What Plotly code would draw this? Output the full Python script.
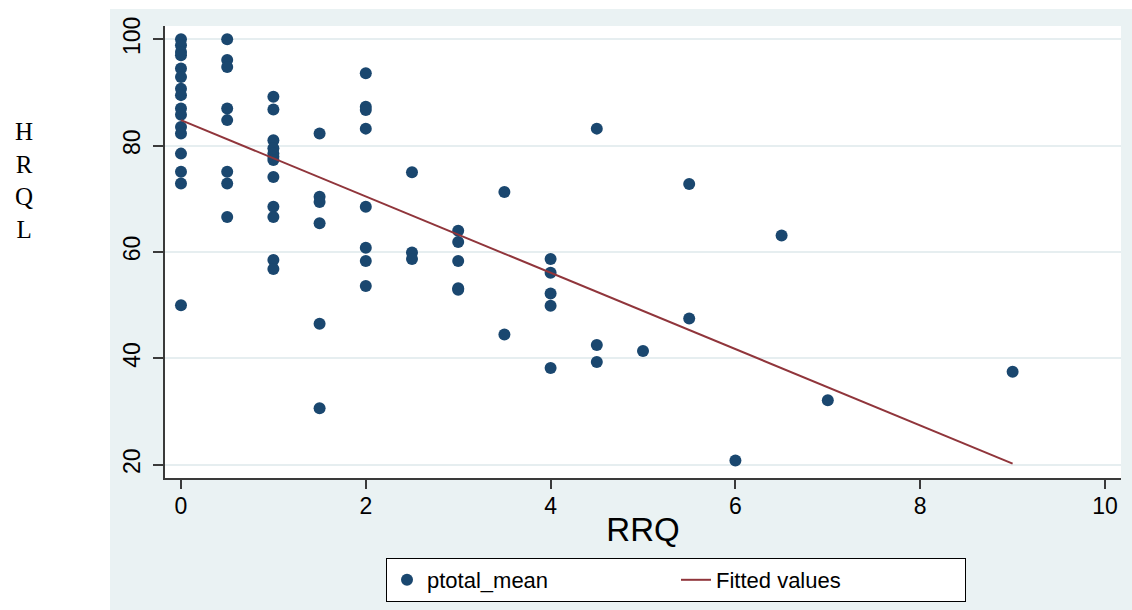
import plotly.graph_objects as go

# RRQ (x) and HRQL (ptotal_mean, y) values
rrq = [0]*16 + [0.5]*8 + [1]*12 + [1.5]*6 + [2]*8 + [2.5]*3 + [3]*5 + [3.5]*2 + [4]*5 + [4.5]*3 + [5] + [5.5]*2 + [6] + [6.5] + [7] + [9]
hrql = [100, 98.9, 97.6, 97.0, 94.5, 92.9, 90.7, 89.5, 87.0, 85.8, 83.5, 82.3, 78.5, 75.1, 72.9, 50.0,
        100, 96.1, 94.8, 87.0, 84.8, 75.1, 72.9, 66.6,
        89.2, 86.8, 81.0, 79.5, 78.5, 77.9, 77.3, 74.1, 68.5, 66.6, 58.5, 56.8,
        82.3, 70.4, 69.4, 65.4, 46.5, 30.6,
        93.6, 87.3, 86.7, 83.2, 68.5, 60.8, 58.3, 53.6,
        75.0, 59.9, 58.7,
        64.0, 61.9, 58.3, 53.2, 52.9,
        71.3, 44.5,
        58.7, 56.1, 52.2, 49.9, 38.2,
        83.2, 42.5, 39.3,
        41.4,
        72.8, 47.5,
        20.8,
        63.1,
        32.1,
        37.5]

# Fitted values line (endpoints)
fit_x = [0, 9]
fit_y = [84.8, 20.2]

x_ticks = [0, 2, 4, 6, 8, 10]
y_ticks = [20, 40, 60, 80, 100]

BG = "#EAF2F3"
NAVY = "#1A476F"
MAROON = "#90353B"
AX = "#3a3a3a"

fig = go.Figure()
fig.add_trace(go.Scatter(x=rrq, y=hrql, mode="markers", name="ptotal_mean",
                         marker=dict(color=NAVY, size=12, line=dict(width=0))))
fig.add_trace(go.Scatter(x=fit_x, y=fit_y, mode="lines", name="Fitted values",
                         line=dict(color=MAROON, width=2)))

W, H = 1132, 610
L, R, T, B = 165, 11, 26, 132
pw, ph = W - L - R, H - T - B

def px(x):
    return (x - L) / pw

def py(y):
    return (H - B - y) / ph

fig.update_layout(
    width=W, height=H,
    margin=dict(l=L, r=R, t=T, b=B, autoexpand=False),
    paper_bgcolor="white",
    plot_bgcolor="white",
    font=dict(family="Liberation Sans, Arial, sans-serif", color="black"),
    shapes=[
        dict(type="rect", xref="paper", yref="paper", x0=px(110), x1=px(1132), y0=py(610), y1=py(9),
             fillcolor=BG, line=dict(width=0), layer="below"),
        dict(type="rect", xref="paper", yref="paper", x0=0, x1=1, y0=0, y1=1,
             fillcolor="white", line=dict(width=0), layer="below"),
    ],
    xaxis=dict(range=[-0.173, 10.173], tickvals=x_ticks, ticktext=[str(v) for v in x_ticks],
               showgrid=False, zeroline=False, showline=True, linecolor=AX, linewidth=1.5,
               ticks="outside", ticklen=9, tickwidth=1.5, tickcolor=AX,
               tickfont=dict(size=23, color="black"), ticklabelstandoff=-2,
               title=dict(text="RRQ", font=dict(size=33, color="black"), standoff=0)),
    yaxis=dict(range=[17.5, 102.5], tickvals=y_ticks, ticktext=[str(v) for v in y_ticks],
               showgrid=True, gridcolor="#E6EEF0", gridwidth=2,
               zeroline=False, showline=True, linecolor=AX, linewidth=1.5,
               ticks="outside", ticklen=10, tickwidth=1.5, tickcolor=AX, tickangle=-90,
               tickfont=dict(size=23, color="black"), ticklabelstandoff=4),
    legend=dict(orientation="h", x=px(386), xanchor="left", y=py(558), yanchor="top",
                bgcolor="white", bordercolor="black", borderwidth=1,
                font=dict(size=22, color="black"), entrywidth=244, entrywidthmode="pixels"),
    annotations=[
        dict(text="H<br>R<br>Q<br>L", xref="paper", yref="paper", x=px(24), y=py(180),
             xanchor="center", yanchor="middle", showarrow=False,
             font=dict(family="Liberation Serif, Times New Roman, serif", size=25, color="black"))
    ],
)

fig.write_html("out.html", config={"displayModeBar": False},
               post_script="document.body.style.margin='0px';document.body.style.overflow='hidden';")
